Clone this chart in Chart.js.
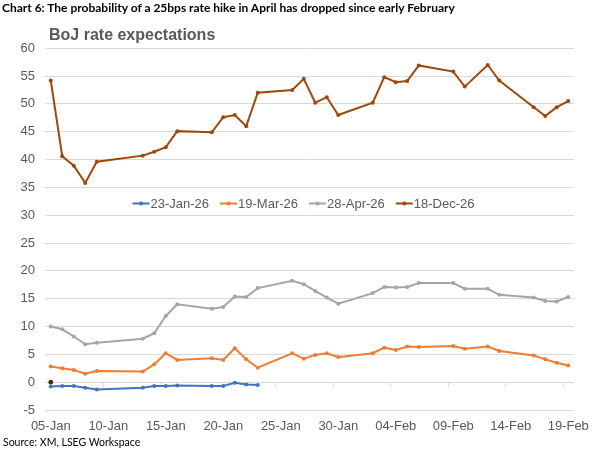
<!DOCTYPE html>
<html>
<head>
<meta charset="utf-8">
<script src="https://cdn.jsdelivr.net/npm/chart.js@4.4.1/dist/chart.umd.min.js"></script>
<style>
  body { margin: 0; background: #fff; overflow: hidden; }
  #wrap { position: relative; width: 597px; height: 449px; }
  #myChart { position: absolute; left: 0; top: 0; }
  .note { position: absolute; left: 2px; color: #000; white-space: nowrap;
          font-family: Lato, "Liberation Sans", Arial, sans-serif; }
  #head { top: 0px; font-size: 12px; font-weight: bold; line-height: 16px; }
  #source { top: 434px; left: 3px; font-size: 10.5px; line-height: 16px; }
</style>
</head>
<body>
<div id="wrap">
  <canvas id="myChart" width="597" height="449"></canvas>
  <div class="note" id="head">Chart 6: The probability of a 25bps rate hike in April has dropped since early February</div>
  <div class="note" id="source">Source: XM, LSEG Workspace</div>
</div>
<script>
// trading days on the chart
const dates = [
  "2026-01-05", "2026-01-06", "2026-01-07", "2026-01-08", "2026-01-09",
  "2026-01-13", "2026-01-14", "2026-01-15", "2026-01-16",
  "2026-01-19", "2026-01-20", "2026-01-21", "2026-01-22", "2026-01-23",
  "2026-01-26", "2026-01-27", "2026-01-28", "2026-01-29", "2026-01-30",
  "2026-02-02", "2026-02-03", "2026-02-04", "2026-02-05", "2026-02-06",
  "2026-02-09", "2026-02-10", "2026-02-12", "2026-02-13",
  "2026-02-16", "2026-02-17", "2026-02-18", "2026-02-19",
];

// probability of a 25bp hike by meeting (%)
const jan26 = [-0.8, -0.7, -0.7, -1.0, -1.3, -1.0, -0.7, -0.7, -0.6, -0.7, -0.7, -0.1, -0.4, -0.5];
const mar26 = [2.8, 2.5, 2.2, 1.5, 2.0, 1.9, 3.2, 5.2, 4.0, 4.3, 4.0, 6.1, 4.1, 2.6,
  5.2, 4.2, 4.9, 5.2, 4.5, 5.2, 6.2, 5.8, 6.4, 6.3, 6.5, 6.0, 6.4, 5.6, 4.8, 4.1, 3.5, 3.0];
const apr26 = [10.0, 9.5, 8.2, 6.8, 7.1, 7.8, 8.8, 11.9, 14.0, 13.2, 13.5, 15.4, 15.3, 16.9,
  18.2, 17.6, 16.4, 15.2, 14.1, 16.0, 17.1, 17.0, 17.1, 17.8, 17.8, 16.8, 16.8, 15.7, 15.2, 14.6, 14.5, 15.3];
const dec26 = [54.2, 40.6, 38.9, 35.8, 39.6, 40.7, 41.4, 42.2, 45.1, 44.9, 47.6, 48.0, 46.0, 52.0,
  52.5, 54.5, 50.2, 51.2, 48.0, 50.2, 54.8, 53.9, 54.1, 56.9, 55.8, 53.1, 57.0, 54.2, 49.4, 47.8, 49.4, 50.5];
const strayDot = [0.0];

const seriesNames = ["23-Jan-26", "19-Mar-26", "28-Apr-26", "18-Dec-26"];
const tickDates = ["2026-01-05", "2026-01-10", "2026-01-15", "2026-01-20", "2026-01-25",
  "2026-01-30", "2026-02-04", "2026-02-09", "2026-02-14", "2026-02-19"];

const colors = ["#4472C4", "#ED7D31", "#A5A5A5", "#9E480E"];
const textGray = "#595959";

const DAY = 86400000;
const start = Date.parse(dates[0]);
const dayOf = (d) => Math.round((Date.parse(d) - start) / DAY);
const months = ["Jan", "Feb", "Mar", "Apr", "May", "Jun", "Jul", "Aug", "Sep", "Oct", "Nov", "Dec"];
const fmt = (d) => {
  const t = new Date(Date.parse(d));
  return String(t.getUTCDate()).padStart(2, "0") + "-" + months[t.getUTCMonth()];
};
const tickText = {};
tickDates.forEach((d) => { tickText[dayOf(d)] = fmt(d); });

const toPoints = (vals) => vals.map((v, i) => ({ x: dayOf(dates[i]), y: v }));

const makeSet = (label, vals, color) => ({
  label: label,
  data: toPoints(vals),
  borderColor: color,
  backgroundColor: color,
  pointBackgroundColor: color,
  pointBorderColor: color,
  borderWidth: 2,
  pointRadius: 2,
  pointBorderWidth: 0,
  pointHoverRadius: 2,
});

const datasets = [
  makeSet(seriesNames[0], jan26, colors[0]),
  makeSet(seriesNames[1], mar26, colors[1]),
  makeSet(seriesNames[2], apr26, colors[2]),
  makeSet(seriesNames[3], dec26, colors[3]),
  Object.assign(makeSet("", strayDot, "#4E2A12"), { showLine: false, pointRadius: 2.4 }),
];

// small tick marks where the category axis crosses at 0
const axisTicks = {
  id: "axisTicks",
  beforeDatasetsDraw(chart) {
    const { ctx, scales: { x, y } } = chart;
    const y0 = Math.round(y.getPixelForValue(0));
    ctx.save();
    ctx.strokeStyle = "#D9D9D9";
    ctx.lineWidth = 1;
    tickDates.slice(1).forEach((d) => {
      const px = Math.round(x.getPixelForValue(dayOf(d) - 0.5)) + 0.5;
      ctx.beginPath();
      ctx.moveTo(px, y0);
      ctx.lineTo(px, y0 + 5);
      ctx.stroke();
    });
    ctx.restore();
  },
};

// legend sits inside the plot, between 30 and 35
const insideLegend = {
  id: "insideLegend",
  afterDatasetsDraw(chart) {
    const { ctx, chartArea, scales: { y } } = chart;
    const items = chart.data.datasets.filter((ds) => ds.label);
    const sample = 17, gap = 1, spacing = 11;
    ctx.save();
    ctx.font = '13px "Liberation Sans", Arial, sans-serif';
    const widths = items.map((ds) => sample + gap + ctx.measureText(ds.label).width);
    const total = widths.reduce((a, b) => a + b, 0) + spacing * (items.length - 1);
    let x = (chartArea.left + chartArea.right) / 2 - total / 2 - 6;
    const cy = y.getPixelForValue(32.1);
    ctx.textBaseline = "middle";
    items.forEach((ds, i) => {
      ctx.strokeStyle = ds.borderColor;
      ctx.lineWidth = 2;
      ctx.beginPath();
      ctx.moveTo(x, cy);
      ctx.lineTo(x + sample, cy);
      ctx.stroke();
      ctx.fillStyle = ds.borderColor;
      ctx.beginPath();
      ctx.arc(x + sample / 2, cy, 2, 0, Math.PI * 2);
      ctx.fill();
      ctx.fillStyle = textGray;
      ctx.fillText(ds.label, x + sample + gap, cy + 0.5);
      x += widths[i] + spacing;
    });
    ctx.restore();
  },
};

const moveTitle = {
  id: "moveTitle",
  afterLayout(chart) {
    if (chart.titleBlock) chart.titleBlock.left = chart.chartArea.left + 4;
  },
};

Chart.defaults.font.family = '"Liberation Sans", Arial, sans-serif';
Chart.defaults.color = textGray;

const ctx = document.getElementById("myChart");

new Chart(ctx, {
  type: "line",
  data: { datasets: datasets },
  options: {
    responsive: false,
    animation: false,
    layout: { padding: { top: 18, right: 23, bottom: 0, left: 0 } },
    plugins: {
      legend: { display: false },
      tooltip: { enabled: false },
      title: {
        display: true,
        text: "BoJ rate expectations",
        align: "start",
        color: textGray,
        font: { size: 16, weight: "bold" },
        padding: { top: 8, bottom: 3 },
      },
    },
    scales: {
      x: {
        type: "linear",
        min: -0.5,
        max: dayOf(dates[dates.length - 1]) + 0.5,
        afterBuildTicks: (scale) => {
          scale.ticks = tickDates.map((d) => ({ value: dayOf(d) }));
        },
        afterFit: (scale) => {
          scale.height = 39;
          scale.paddingLeft = 0;
          scale.paddingRight = 0;
        },
        ticks: {
          autoSkip: false,
          maxRotation: 0,
          padding: 9,
          font: { size: 13 },
          callback: (v) => tickText[v] || "",
        },
        grid: { display: false, drawTicks: false },
        border: { display: false },
      },
      y: {
        min: -5,
        max: 60,
        afterFit: (scale) => {
          scale.width = 45;
        },
        ticks: { stepSize: 5, padding: 10, font: { size: 13 } },
        grid: { color: "#D9D9D9", drawTicks: false },
        border: { display: false },
      },
    },
  },
  plugins: [axisTicks, insideLegend, moveTitle],
});
</script>
</body>
</html>
